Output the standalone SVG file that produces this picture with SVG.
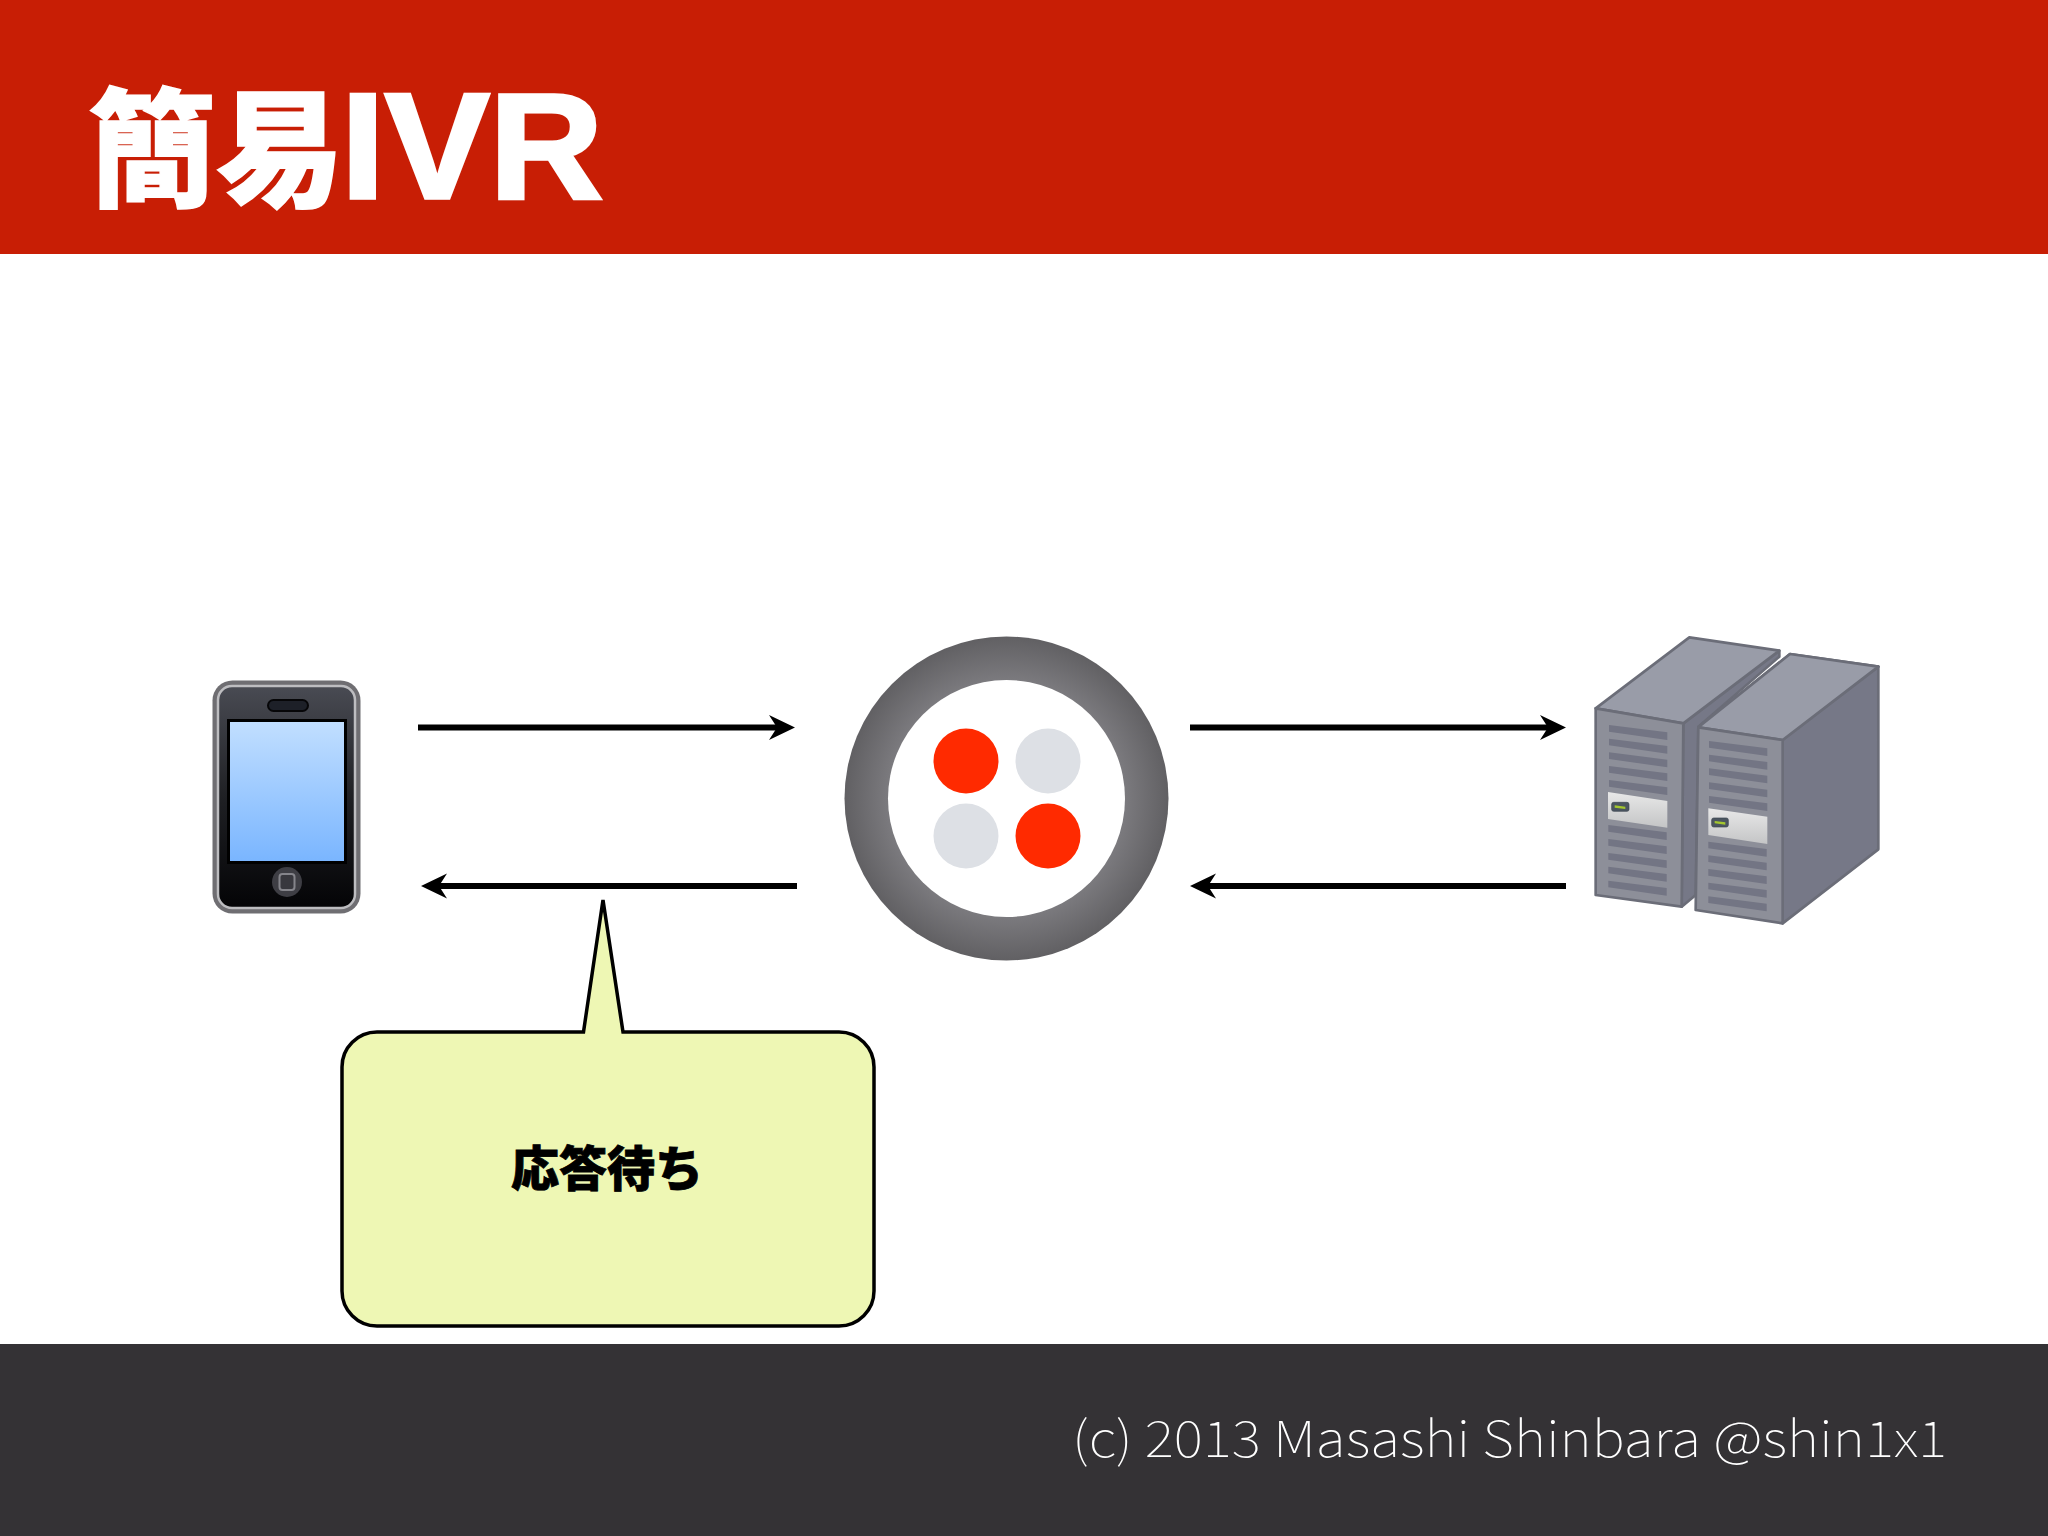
<svg xmlns="http://www.w3.org/2000/svg" width="2048" height="1536" viewBox="0 0 2048 1536">
<style>
.cjk{font-family:"Noto Sans CJK JP","Noto Sans",sans-serif;font-weight:900}
.conn{stroke:#000;stroke-width:6;fill:none}
.front{fill:#8d8f99;stroke:#6b6d78;stroke-width:8;stroke-linejoin:round}
.top{fill:#999ca8;stroke:#6b6d78;stroke-width:8;stroke-linejoin:round}
.side{fill:#767887;stroke:#6b6d78;stroke-width:8;stroke-linejoin:round}
.slat{fill:#737584}
.panel{fill:url(#panelG)}
.led{fill:#4b5560;stroke:#3d4650;stroke-width:2}
.ledon{fill:#a4c72e}
</style>
<defs>
<marker id="ah" viewBox="0 0 26 26" refX="12" refY="13" markerWidth="26" markerHeight="26" markerUnits="userSpaceOnUse" orient="auto-start-reverse">
<path d="M26 13 L0 0.500 L8 13 L0 25.500 Z" fill="#000"/>
</marker>
<linearGradient id="body" x1="0" y1="0" x2="0" y2="1"><stop offset="0" stop-color="#494b53"/><stop offset=".5" stop-color="#1f2024"/><stop offset="1" stop-color="#040406"/></linearGradient>
<linearGradient id="screen" x1="0" y1="0" x2="0" y2="1"><stop offset="0" stop-color="#c2dfff"/><stop offset="1" stop-color="#79b5ff"/></linearGradient>
<linearGradient id="panelG" x1="0" y1="0" x2="0" y2="1"><stop offset="0" stop-color="#e8e8e8"/><stop offset="1" stop-color="#c4c5c6"/></linearGradient>
<radialGradient id="ring" gradientUnits="userSpaceOnUse" cx="1006.5" cy="798.5" r="162"><stop offset=".72" stop-color="#7c7b7f"/><stop offset="1" stop-color="#616063"/></radialGradient>
<g id="slats"><path class="slat" d="M0 0L175 22V45L0 20Z"/></g>
</defs>
<rect width="2048" height="1536" fill="#fff"/>
<rect id="header" width="2048" height="254" fill="#c81e05"/>
<rect id="footer" y="1344" width="2048" height="192" fill="#343235"/>
<text id="title" class="cjk" y="197" fill="#fff" stroke="#fff" stroke-width="1.500" font-size="128" x="88">簡易<tspan x="341" y="198" font-family="Liberation Sans" font-weight="700" font-size="150" stroke-width="3.500" textLength="262" lengthAdjust="spacingAndGlyphs">IVR</tspan></text>
<text id="credit" x="1072" y="1457" fill="#fff" font-size="50" font-weight="100" font-family="Noto Sans CJK JP,Noto Sans,sans-serif" textLength="875" lengthAdjust="spacingAndGlyphs">(c) 2013 Masashi Shinbara @shin1x1</text>
<g id="connectors">
<path class="conn" d="M418 727.500H781" marker-end="url(#ah)"/>
<path class="conn" d="M797 886H435" marker-end="url(#ah)"/>
<path class="conn" d="M1190 727.500H1552" marker-end="url(#ah)"/>
<path class="conn" d="M1566 886H1204" marker-end="url(#ah)"/>
</g>
<g id="phone">
<rect x="212.500" y="680.500" width="148" height="233" rx="20" fill="#6f6e72"/>
<rect x="218" y="686" width="137" height="222" rx="14" fill="url(#body)" stroke="#bdbdc0" stroke-width="2.500"/>
<rect x="268" y="700" width="40" height="11" rx="5.500" fill="#1d2028" stroke="#060608" stroke-width="2"/>
<rect x="228.500" y="720.500" width="117" height="142" fill="url(#screen)" stroke="#000" stroke-width="3"/>
<circle cx="287" cy="882" r="15" fill="#3e3e44"/>
<rect x="279.500" y="874" width="15" height="16" rx="3" fill="#38383e" stroke="#85858b" stroke-width="2"/>
</g>
<g id="hub">
<circle cx="1006.500" cy="798.500" r="162" fill="url(#ring)"/>
<circle cx="1006.500" cy="798.500" r="118.500" fill="#fff"/>
<circle cx="966" cy="761" r="32.500" fill="#ff2a00"/>
<circle cx="1048" cy="761" r="32.500" fill="#dde0e5"/>
<circle cx="966" cy="836" r="32.500" fill="#dde0e5"/>
<circle cx="1048" cy="836" r="32.500" fill="#ff2a00"/>
</g>
<g id="servers" transform="translate(1570 620) scale(.33333)">
<g id="server-left">
<path class="side" d="M340 310L628 92V110L385 320L377 825L335 860Z"/>
<path class="top" d="M77 265L358 52L628 92L340 310Z"/>
<path class="front" d="M77 265L340 310L335 860L77 825Z"/>
<g transform="translate(117 315)"><use href="#slats"/><use href="#slats" y="41"/><use href="#slats" y="82"/><use href="#slats" y="123"/><use href="#slats" y="165"/></g>
<path class="panel" d="M114 516L292 543V623L114 597Z"/>
<rect class="led" x="125" y="547" width="52" height="27" rx="6"/><path class="ledon" d="M134 556L166 560V567L134 563Z"/>
<g transform="translate(115 615)"><use href="#slats"/><use href="#slats" y="42"/><use href="#slats" y="84"/><use href="#slats" y="125"/><use href="#slats" y="167"/></g>
</g>
<g id="server-right">
<path class="top" d="M385 322L660 102L925 140L638 360Z" stroke-width="0"/>
<path class="side" d="M638 360L925 140V688L638 910Z"/>
<path class="top" d="M385 322L660 102L925 140L638 360Z"/>
<path class="front" d="M385 322L638 360V910L377 870Z"/>
<g transform="translate(417 363)"><use href="#slats"/><use href="#slats" y="41"/><use href="#slats" y="82"/><use href="#slats" y="124"/><use href="#slats" y="165"/></g>
<path class="panel" d="M415 565L592 590V672L415 645Z"/>
<rect class="led" x="425" y="594" width="50" height="27" rx="6"/><path class="ledon" d="M434 603L466 607V614L434 610Z"/>
<g transform="translate(415 665)"><use href="#slats"/><use href="#slats" y="41"/><use href="#slats" y="82"/><use href="#slats" y="123"/><use href="#slats" y="164"/></g>
</g>
</g>
<g id="callout">
<path d="M377 1032H583.500L603 900L623 1032H839A35 35 0 0 1 874 1067V1291A35 35 0 0 1 839 1326H377A35 35 0 0 1 342 1291V1067A35 35 0 0 1 377 1032Z" fill="#eef7b4" stroke="#000" stroke-width="3.500" stroke-linejoin="miter"/>
<text class="cjk" x="607" y="1186" font-size="48" text-anchor="middle" fill="#000" stroke="#000" stroke-width=".8">応答待ち</text>
</g>
</svg>
